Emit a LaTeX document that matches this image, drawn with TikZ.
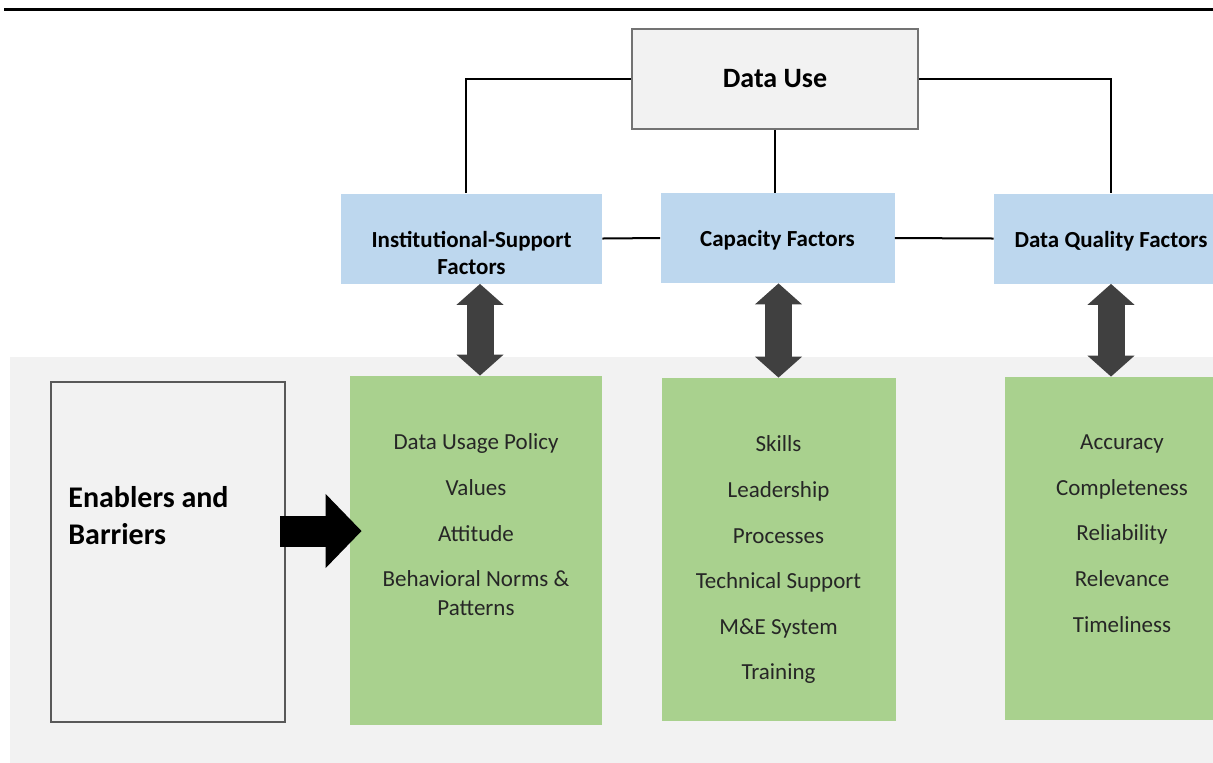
\documentclass[tikz,border=0pt]{standalone}
\usepackage{fontspec}
\setmainfont{Carlito}
\usetikzlibrary{arrows.meta,positioning,calc}
\definecolor{factorblue}{HTML}{BDD7EE}
\definecolor{itemgreen}{HTML}{A9D18E}
\definecolor{panelgray}{HTML}{F2F2F2}
\definecolor{arrowgray}{HTML}{404040}
\tikzset{
  topbox/.style={draw=black!55, line width=0.8pt, fill=panelgray, minimum width=143pt, minimum height=50pt, font=\fontsize{14}{16}\selectfont\bfseries},
  factor/.style={fill=factorblue, minimum width=117pt, minimum height=45pt},
  factortext/.style={anchor=north, inner sep=0pt, align=center, font=\fontsize{11.5}{13.5}\selectfont\bfseries},
  itembox/.style={fill=itemgreen, minimum width=117pt, minimum height=171.5pt},
  itemlist/.style={anchor=north, inner sep=0pt, align=center, text=black!85, font=\fontsize{11.5}{14.5}\selectfont},
  link/.style={line width=1pt},
  dblarr/.style={arrowgray, line width=13.5pt, {Triangle[length=10.5pt,width=23pt]}-{Triangle[length=10.5pt,width=23pt]}},
  pusharr/.style={black, line width=15.5pt, -{Triangle[length=18pt,width=36pt]}}
}

\begin{document}
\begin{tikzpicture}[x=0.5pt,y=-0.5pt]
\useasboundingbox (0,0) rectangle (1213,762);
% top rule and shaded lower panel
\draw[line width=1.5pt] (4,9) -- (1213,9);
\fill[panelgray] (10,357) rectangle (1240,780);

\node[topbox] (use) at (775,79) {Data Use};
\node[factor, minimum width=130.5pt] (inst) at (471.5,238.5) {};
\node[factor] (cap) at (777.5,238) {};
\node[factor] (qual) at (1111,238.5) {};
\node[factortext, below=19pt of inst.north] (insttext) {Institutional-Support\\Factors};
\node[factortext, below=18.5pt of cap.north] (captext) {Capacity Factors};
\node[factortext, below=19pt of qual.north] (qualtext) {Data Quality Factors};

\node[itembox, minimum width=126pt, minimum height=174.5pt] (institems) at (476,550.5) {};
\node[itembox] (capitems) at (778.5,549.5) {};
\node[itembox] (qualitems) at (1122,548.5) {};

\node[itemlist, below=29pt of institems.north] (instlist) {Data Usage Policy\\[8.3pt]Values\\[8.3pt]Attitude\\[8.3pt]Behavioral Norms \&\\Patterns};
\node[itemlist, below=29pt of capitems.north] (caplist) {Skills\\[8.3pt]Leadership\\[8.3pt]Processes\\[8.3pt]Technical Support\\[8.3pt]M\&E System\\[8.3pt]Training};
\node[itemlist, below=29pt of qualitems.north] (quallist) {Accuracy\\[8.3pt]Completeness\\[8.3pt]Reliability\\[8.3pt]Relevance\\[8.3pt]Timeliness};

\node[draw=black!65, line width=0.8pt, fill=panelgray, minimum width=117pt, minimum height=170pt] (drivers) at (168,552) {};
\node[anchor=west, inner sep=0pt, align=left, font=\fontsize{15}{18.5}\selectfont\bfseries] (driverstext) at (68,516) {Enablers and\\Barriers};

% links to Data Use
\draw[link] ([xshift=-3pt]inst.north) |- (use.west);
\draw[link] (use.south) -- (use.south |- cap.north);
\draw[link] (use.east) -| (qual.north);
\draw[link] (inst.east) -- (cap.west);
\draw[link] (cap.east) -- (qual.west);

% two-way arrows
\draw[dblarr] ([xshift=2pt]institems.north |- inst.south) -- ([xshift=2pt]institems.north);
\draw[dblarr] (capitems.north |- cap.south) -- (capitems.north);
\draw[dblarr] (qual.south) -- (qual.south |- qualitems.north);

\coordinate (pushstart) at (280,531);
\draw[pusharr] (pushstart) -- ($(pushstart -| institems.west)+(6pt,0)$);
\end{tikzpicture}
\end{document}
